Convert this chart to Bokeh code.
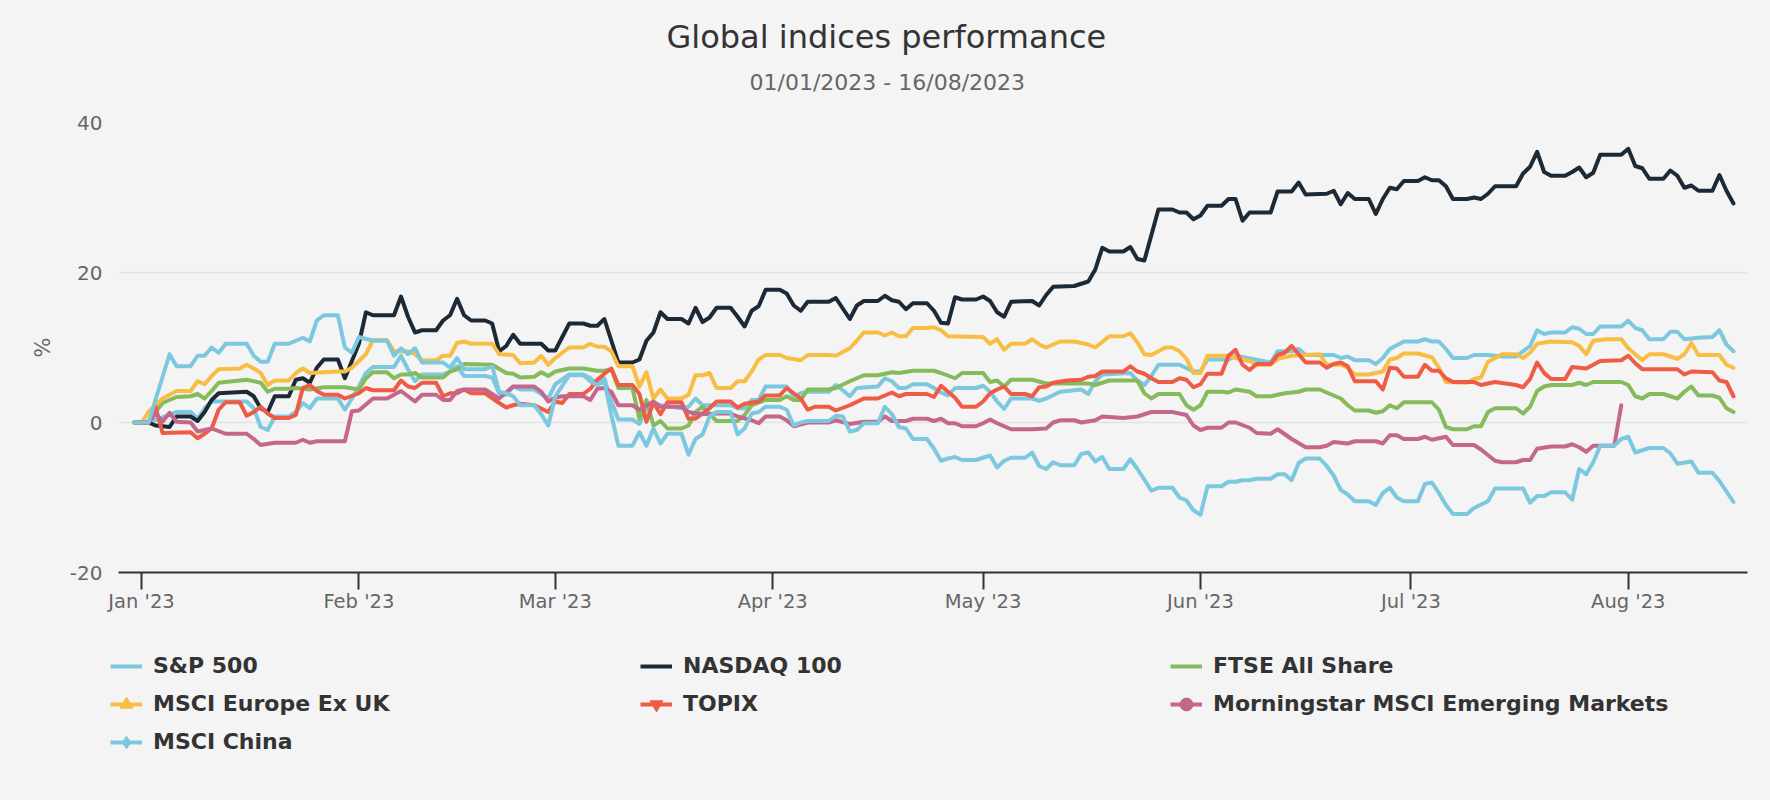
from datetime import datetime, timedelta

from bokeh.plotting import figure
from bokeh.layouts import column
from bokeh.models import (Range1d, FixedTicker, DatetimeTickFormatter, Legend,
                          LegendItem, ColumnDataSource, Title)
from bokeh.embed import file_html
from bokeh.resources import INLINE

# ---------------- data (day offset from 2023-01-01, % performance) ----------------
BASE = datetime(2023, 1, 1)

sp500_days = [-1, 1, 5, 7, 8, 9, 10, 15, 16, 17, 18, 19, 21, 22, 23, 24, 25, 28, 29, 30,
              31, 32, 33, 36, 37, 38, 39, 40, 43, 44, 45, 46, 49, 50, 51, 52, 53, 54, 56, 57,
              58, 59, 61, 63, 64, 65, 66, 67, 68, 70, 71, 72, 73, 74, 77, 78, 79, 80, 84, 85,
              86, 87, 88, 89, 92, 93, 94, 95, 98, 99, 100, 101, 102, 105, 106, 107, 108, 109, 110, 112,
              113, 114, 115, 116, 119, 120, 121, 122, 123, 124, 127, 128, 129, 131, 134, 135, 136, 137, 141, 142,
              143, 144, 145, 148, 150, 151, 152, 155, 156, 161, 162, 164, 165, 166, 170, 171, 172, 173, 175, 176,
              177, 178, 180, 182, 183, 184, 185, 186, 187, 189, 190, 192, 194, 196, 198, 199, 200, 201, 203, 204,
              205, 206, 207, 208, 211, 212, 213, 214, 215, 217, 218, 219, 220, 222, 224, 225, 226, 227]
sp500_pct = [0, 0, 1.4, 1.4, 0.5, 1.9, 2.8, 2.8, 1.9, -0.6, -1.0, 0.8, 0.8, 1.4, 2.6, 1.9, 3.2, 3.2, 1.7, 3.2,
             4.8, 6.6, 7.4, 7.4, 8.9, 7.1, 5.5, 6.4, 6.4, 6.8, 7.5, 6.2, 6.2, 6.0, 3.9, 3.7, 4.8, 4.4, 4.4, 3.8,
             3.2, 5.1, 6.4, 6.4, 5.9, 5.0, 5.9, 2.8, 0.4, 0.4, -0.2, 1.9, 2.6, 2.3, 1.9, 2.1, 3.2, 2.3, 2.3, 1.9,
             1.9, 3.0, 3.0, 4.8, 4.8, 3.5, 3.9, 4.1, 4.1, 5.0, 4.3, 3.5, 4.6, 4.8, 5.9, 5.5, 4.6, 4.6, 5.1, 5.1,
             4.6, 4.0, 3.6, 4.6, 4.6, 4.9, 4.1, 2.8, 1.8, 3.2, 3.2, 2.9, 3.2, 4.1, 4.4, 3.8, 5.5, 6.4, 6.6, 5.6,
             5.0, 6.2, 7.7, 7.7, 6.8, 6.8, 8.4, 8.4, 8.9, 8.0, 9.5, 9.5, 9.8, 9.0, 9.0, 8.6, 8.8, 8.3, 8.3, 7.8,
             8.6, 9.8, 10.8, 10.8, 11.1, 10.8, 10.8, 9.8, 8.6, 8.6, 9.0, 9.0, 8.8, 8.8, 10.2, 12.3, 11.8, 12.0, 12.0, 12.7,
             12.5, 11.8, 11.8, 12.8, 12.8, 13.6, 12.6, 12.3, 11.1, 11.1, 12.1, 12.1, 11.1, 11.3, 11.4, 12.3, 10.4, 9.5]

nasdaq_days = [-1, 1, 2, 4, 5, 7, 8, 9, 10, 11, 15, 16, 17, 18, 19, 21, 22, 23, 24, 25,
               26, 28, 29, 30, 31, 32, 33, 36, 37, 38, 39, 40, 42, 43, 44, 45, 46, 47, 49, 50,
               51, 52, 53, 54, 57, 58, 59, 60, 61, 63, 64, 65, 66, 67, 68, 70, 71, 72, 73, 74,
               75, 77, 78, 79, 80, 81, 82, 84, 85, 86, 87, 88, 89, 91, 92, 93, 94, 95, 98, 99,
               100, 101, 102, 103, 105, 106, 107, 108, 109, 110, 112, 113, 114, 115, 116, 117, 119, 120, 121, 122,
               123, 124, 127, 128, 129, 130, 133, 135, 136, 137, 138, 140, 141, 142, 143, 145, 147, 148, 149, 150,
               151, 152, 154, 155, 156, 157, 158, 161, 162, 164, 165, 166, 169, 170, 171, 172, 173, 175, 176, 177,
               178, 179, 180, 182, 183, 184, 185, 186, 187, 189, 190, 191, 192, 193, 196, 197, 198, 199, 200, 201,
               203, 204, 205, 206, 207, 208, 211, 212, 213, 214, 215, 217, 218, 219, 220, 221, 222, 224, 225, 226, 227]
nasdaq_pct = [0, 0, -0.4, -0.6, 0.8, 0.8, 0.2, 1.4, 3.0, 3.9, 4.1, 3.5, 1.9, 1.4, 3.5, 3.5, 5.7, 5.9, 5.3, 7.3,
              8.4, 8.4, 5.9, 8.2, 10.5, 14.7, 14.3, 14.3, 16.8, 14.1, 12.0, 12.3, 12.3, 13.6, 14.3, 16.5, 14.3, 13.6, 13.6, 13.2,
              9.5, 10.2, 11.7, 10.5, 10.5, 9.6, 9.6, 11.4, 13.2, 13.2, 12.9, 12.9, 13.8, 10.9, 8.0, 8.0, 8.4, 10.9, 12.0, 14.7,
              13.8, 13.8, 13.2, 15.3, 13.4, 14.0, 15.3, 15.3, 14.1, 12.8, 14.9, 15.5, 17.7, 17.7, 17.2, 15.6, 14.9, 16.1, 16.1, 16.6,
              15.2, 13.8, 15.6, 16.2, 16.2, 16.9, 16.3, 16.1, 15.1, 15.9, 15.9, 14.9, 13.3, 13.2, 16.7, 16.4, 16.4, 16.8, 16.2, 14.7,
              14.1, 16.1, 16.2, 15.6, 17.0, 18.1, 18.2, 18.8, 20.4, 23.3, 22.8, 22.8, 23.4, 21.8, 21.6, 28.4, 28.4, 28.0, 28.0, 27.1,
              27.6, 28.9, 28.9, 29.8, 29.8, 26.9, 28.0, 28.0, 30.8, 30.8, 32.0, 30.4, 30.5, 30.9, 29.1, 30.6, 29.8, 29.8, 27.8, 29.8,
              31.3, 31.1, 32.2, 32.2, 32.7, 32.3, 32.3, 31.5, 29.8, 29.8, 30.0, 29.8, 30.5, 31.5, 31.5, 33.2, 34.1, 36.1, 33.4, 32.9,
              32.9, 33.4, 34.0, 32.7, 33.3, 35.7, 35.7, 36.5, 34.2, 33.9, 32.5, 32.5, 33.6, 32.9, 31.3, 31.6, 30.9, 30.9, 33.0, 30.9, 29.2]

ftse_days = [-1, 1, 2, 3, 5, 7, 8, 9, 10, 11, 13, 15, 17, 18, 19, 21, 22, 24, 26, 29,
             31, 32, 33, 35, 36, 37, 38, 39, 40, 43, 44, 45, 46, 50, 52, 53, 54, 56, 57, 58,
             59, 61, 63, 65, 66, 67, 68, 70, 71, 72, 73, 74, 75, 77, 78, 79, 80, 82, 85, 86,
             87, 89, 91, 92, 93, 94, 95, 98, 99, 101, 103, 105, 107, 108, 110, 113, 114, 116, 117, 120,
             121, 122, 123, 124, 127, 129, 135, 136, 138, 142, 143, 144, 145, 148, 149, 150, 151, 152, 154, 155,
             156, 158, 159, 161, 163, 165, 166, 168, 170, 171, 172, 173, 175, 176, 177, 178, 179, 180, 184, 185,
             186, 187, 189, 190, 191, 192, 193, 196, 197, 198, 199, 200, 201, 204, 205, 206, 207, 211, 212, 213,
             214, 215, 217, 219, 220, 221, 222, 224, 225, 226, 227]
ftse_pct = [0, 0, 1.4, 2.6, 3.4, 3.5, 3.8, 3.2, 4.2, 5.3, 5.5, 5.7, 5.3, 4.1, 4.5, 4.5, 4.6, 4.4, 4.7, 4.7,
            4.4, 5.9, 6.7, 6.7, 5.9, 6.4, 6.4, 6.6, 6.0, 6.0, 6.8, 7.1, 7.8, 7.7, 6.6, 6.5, 6.0, 6.1, 6.7, 6.2,
            6.8, 7.2, 7.2, 6.9, 6.9, 7.1, 4.6, 4.6, 0.5, 3.0, -0.4, 0.2, -0.8, -0.8, -0.4, 1.4, 2.1, 0.2, 0.2, 1.0,
            2.3, 3.0, 3.0, 3.5, 3.0, 3.0, 4.4, 4.4, 4.6, 5.5, 6.3, 6.3, 6.7, 6.6, 6.9, 6.9, 6.6, 5.9, 6.6, 6.6,
            5.4, 5.6, 4.8, 5.7, 5.7, 5.2, 5.2, 5.0, 5.6, 5.6, 3.9, 3.2, 3.8, 3.8, 2.3, 1.7, 2.3, 4.1, 4.1, 4.0,
            4.4, 4.1, 3.5, 3.5, 3.9, 4.1, 4.4, 4.4, 3.6, 3.2, 2.3, 1.6, 1.6, 1.3, 1.5, 2.3, 1.9, 2.7, 2.7, 1.7,
            -0.6, -0.9, -0.9, -0.5, -0.5, 1.4, 1.9, 1.9, 1.2, 2.1, 4.2, 4.8, 5.0, 5.0, 5.3, 5.0, 5.4, 5.4, 5.0, 3.5,
            3.2, 3.8, 3.8, 3.2, 4.1, 4.8, 3.6, 3.6, 3.3, 1.9, 1.4]

europe_days = [-1, 0, 1, 3, 4, 5, 7, 8, 9, 10, 11, 14, 15, 16, 17, 18, 19, 21, 22, 23,
               24, 28, 29, 30, 32, 33, 35, 36, 38, 39, 40, 42, 43, 44, 45, 46, 47, 50, 51, 53,
               54, 56, 57, 58, 59, 60, 61, 63, 64, 65, 66, 67, 68, 70, 71, 72, 73, 74, 75, 77,
               78, 79, 80, 81, 82, 84, 85, 86, 87, 88, 89, 91, 92, 94, 95, 98, 99, 101, 102, 103,
               105, 106, 107, 108, 109, 110, 112, 113, 114, 115, 120, 121, 122, 123, 124, 126, 127, 128, 129, 131,
               133, 135, 136, 138, 140, 141, 142, 143, 144, 146, 147, 148, 149, 150, 151, 152, 155, 156, 158, 159,
               161, 162, 164, 168, 169, 171, 172, 173, 175, 177, 178, 179, 180, 182, 184, 185, 186, 189, 190, 191,
               192, 194, 196, 197, 198, 199, 201, 204, 205, 206, 207, 209, 211, 212, 214, 215, 217, 219, 220, 221,
               222, 225, 226, 227]
europe_pct = [0, 0, 1.4, 3.2, 3.7, 4.2, 4.2, 5.5, 5.1, 6.2, 7.1, 7.2, 7.7, 7.2, 6.6, 5.0, 5.6, 5.6, 6.6, 7.2,
              6.6, 6.8, 6.8, 7.3, 9.1, 11.0, 11.0, 9.5, 9.5, 9.1, 8.3, 8.3, 8.9, 8.9, 10.6, 10.8, 10.5, 10.5, 9.1, 9.0,
              7.9, 8.0, 8.9, 7.7, 8.6, 9.3, 10.0, 10.0, 10.5, 10.1, 10.1, 9.5, 7.5, 7.5, 4.8, 6.7, 3.2, 4.4, 3.2, 3.2,
              3.7, 6.3, 6.3, 6.6, 4.6, 4.6, 5.5, 5.5, 6.8, 8.4, 9.0, 9.0, 8.6, 8.3, 9.0, 9.0, 8.9, 9.9, 10.9, 12.0,
              12.0, 11.6, 12.0, 11.5, 11.5, 12.6, 12.6, 12.7, 12.3, 11.5, 11.4, 10.5, 11.1, 9.7, 10.5, 10.5, 11.1, 10.4, 10.0, 10.8,
              10.8, 10.4, 10.0, 11.5, 11.5, 11.9, 10.7, 9.1, 9.0, 10.0, 10.0, 9.5, 8.5, 6.6, 6.6, 8.9, 8.9, 8.6, 8.2, 7.7,
              7.7, 8.5, 8.9, 9.1, 7.7, 7.7, 7.3, 6.4, 6.4, 6.8, 8.4, 8.6, 9.2, 9.2, 8.7, 7.3, 5.4, 5.3, 5.8, 6.0,
              8.1, 9.1, 9.1, 8.6, 9.3, 10.5, 10.8, 10.7, 10.2, 9.1, 10.9, 11.1, 11.1, 9.9, 8.3, 9.1, 9.1, 8.5, 9.1, 10.6,
              9.0, 9.0, 7.7, 7.3]

topix_days = [-1, 1, 2, 3, 7, 8, 9, 10, 11, 12, 14, 15, 16, 17, 18, 19, 21, 22, 23, 24,
              25, 26, 28, 29, 31, 32, 33, 36, 37, 38, 39, 40, 42, 43, 44, 45, 46, 47, 49, 51,
              52, 53, 54, 56, 58, 59, 60, 61, 63, 64, 65, 66, 67, 68, 70, 71, 72, 73, 74, 75,
              77, 78, 79, 80, 81, 82, 84, 85, 86, 88, 89, 91, 92, 93, 94, 95, 96, 98, 99, 101,
              103, 105, 107, 108, 109, 112, 113, 114, 115, 116, 117, 119, 120, 121, 122, 123, 124, 126, 127, 128,
              129, 130, 132, 134, 135, 136, 137, 140, 141, 142, 143, 144, 145, 147, 148, 149, 150, 151, 152, 154,
              155, 156, 157, 158, 159, 161, 162, 163, 164, 165, 166, 168, 169, 170, 171, 172, 173, 176, 177, 178,
              179, 180, 182, 183, 184, 185, 186, 187, 190, 191, 193, 196, 197, 198, 199, 200, 201, 203, 204, 206,
              208, 211, 212, 213, 214, 219, 220, 221, 224, 225, 226, 227]
topix_pct = [0, 0, 2.1, -1.4, -1.3, -2.1, -1.5, -0.8, 1.7, 2.7, 2.7, 0.9, 1.4, 2.1, 1.2, 0.6, 0.6, 1.0, 4.6, 5.0,
             4.2, 3.7, 3.7, 3.2, 3.9, 4.6, 4.3, 4.3, 5.6, 4.8, 4.6, 5.3, 5.3, 3.5, 3.9, 3.9, 4.4, 3.9, 3.9, 2.6,
             2.0, 2.3, 2.5, 2.3, 1.4, 2.8, 2.6, 3.8, 3.8, 4.5, 5.7, 6.5, 7.2, 5.0, 5.0, 3.8, 0.1, 2.7, 1.1, 2.7,
             2.7, 0.5, 0.5, 1.2, 1.9, 2.8, 2.8, 2.0, 2.5, 2.8, 3.6, 3.6, 4.6, 3.9, 3.2, 1.7, 2.1, 2.1, 1.6, 2.3,
             3.2, 3.2, 4.0, 3.5, 3.8, 3.8, 3.4, 4.9, 4.1, 3.3, 2.1, 2.1, 2.8, 3.9, 4.4, 4.8, 3.8, 3.8, 3.5, 4.7,
             4.8, 5.3, 5.6, 5.7, 6.1, 6.2, 6.8, 6.8, 7.5, 6.8, 6.5, 5.9, 5.4, 5.4, 5.9, 5.7, 4.7, 5.1, 6.5, 6.5,
             8.9, 9.7, 7.7, 7.0, 7.8, 7.8, 9.0, 9.3, 10.2, 9.1, 8.0, 8.0, 7.3, 7.8, 8.0, 7.5, 5.5, 5.5, 4.4, 7.3,
             7.2, 6.1, 6.1, 7.7, 6.9, 6.9, 5.9, 5.4, 5.4, 5.0, 5.4, 5.0, 4.7, 5.8, 8.0, 6.6, 5.8, 5.8, 7.4, 7.2,
             8.2, 8.3, 8.9, 7.9, 7.1, 7.1, 6.4, 6.8, 6.7, 5.6, 5.4, 3.5]

em_days = [-1, 1, 2, 3, 4, 5, 7, 8, 10, 12, 15, 16, 17, 19, 22, 23, 24, 25, 29, 30,
           31, 33, 35, 37, 39, 40, 42, 43, 44, 45, 46, 49, 51, 53, 56, 57, 58, 59, 60, 63,
           64, 65, 66, 67, 68, 70, 71, 73, 74, 77, 78, 79, 81, 82, 84, 85, 87, 88, 89, 91,
           92, 93, 95, 98, 99, 101, 103, 105, 106, 107, 109, 110, 112, 113, 114, 115, 116, 117, 119, 120,
           121, 122, 124, 127, 129, 130, 131, 133, 134, 136, 137, 140, 142, 144, 147, 149, 150, 151, 152, 154,
           155, 156, 158, 159, 161, 162, 164, 166, 168, 169, 170, 171, 172, 173, 176, 177, 178, 179, 180, 182,
           183, 184, 186, 187, 190, 191, 193, 194, 196, 197, 198, 199, 201, 203, 204, 205, 206, 207, 210, 211]
em_pct = [0, 0, 1.2, 0.1, 1.3, 0.1, 0.0, -1.2, -0.8, -1.5, -1.5, -2.2, -3.0, -2.7, -2.7, -2.3, -2.7, -2.5, -2.5, 1.5,
          1.6, 3.2, 3.2, 4.2, 2.8, 3.7, 3.7, 3.0, 3.0, 4.2, 4.4, 4.4, 3.2, 4.8, 4.8, 4.1, 2.8, 3.3, 3.5, 3.5,
          3.0, 4.5, 4.6, 4.1, 2.3, 2.3, 1.7, 2.8, 2.1, 2.1, 1.4, 1.2, 1.1, 1.2, 1.2, 0.8, 0.3, -0.1, 0.8, 0.8,
          0.3, -0.5, 0.0, 0.0, 0.3, -0.2, 0.1, 0.1, 0.8, 0.2, 0.2, 0.5, 0.5, 0.2, 0.5, -0.1, -0.1, -0.5, -0.5, -0.1,
          0.4, -0.1, -0.9, -0.9, -0.8, 0.0, 0.3, 0.3, 0.0, 0.3, 0.8, 0.6, 0.8, 1.4, 1.4, 1.0, -0.4, -1.0, -0.7, -0.7,
          0.0, 0.0, -0.7, -1.4, -1.5, -0.9, -2.2, -3.3, -3.3, -3.1, -2.6, -2.7, -2.8, -2.5, -2.5, -2.8, -1.7, -1.7, -2.2, -2.2,
          -1.9, -2.3, -1.9, -3.0, -3.0, -3.6, -5.1, -5.3, -5.3, -5.0, -5.0, -3.5, -3.2, -3.2, -2.9, -3.3, -3.9, -3.1, -3.1, 2.3]

china_days = [-1, 1, 4, 5, 7, 8, 9, 10, 11, 12, 15, 16, 17, 18, 19, 21, 22, 23, 24, 25,
              26, 28, 29, 30, 31, 33, 35, 36, 37, 38, 39, 40, 43, 44, 45, 46, 49, 50, 51, 52,
              53, 54, 56, 57, 58, 59, 61, 63, 64, 65, 66, 67, 68, 70, 71, 72, 73, 74, 75, 77,
              78, 79, 80, 81, 82, 84, 85, 86, 87, 88, 89, 91, 92, 93, 94, 95, 98, 99, 100, 101,
              102, 103, 105, 106, 107, 108, 109, 110, 112, 113, 114, 115, 116, 117, 119, 121, 122, 123, 124, 126,
              127, 128, 129, 130, 131, 133, 134, 135, 136, 137, 138, 140, 141, 142, 143, 144, 145, 147, 148, 149,
              150, 151, 152, 154, 155, 156, 157, 158, 159, 161, 162, 163, 164, 165, 166, 168, 169, 170, 171, 172,
              173, 175, 176, 177, 178, 179, 180, 182, 183, 184, 185, 186, 187, 189, 190, 192, 193, 197, 198, 199,
              200, 201, 203, 204, 205, 206, 207, 208, 210, 211, 212, 213, 215, 217, 218, 219, 221, 222, 224, 225, 227]
china_pct = [0, 0, 9.1, 7.5, 7.5, 8.9, 8.9, 10.0, 9.3, 10.5, 10.5, 8.9, 8.1, 8.1, 10.5, 10.5, 10.9, 11.3, 10.8, 13.6,
             14.3, 14.3, 10.0, 9.3, 11.4, 10.9, 10.9, 8.9, 9.9, 9.1, 9.9, 8.0, 8.0, 7.3, 8.6, 7.1, 7.1, 7.5, 4.1, 3.9,
             3.5, 2.3, 2.3, 1.1, -0.4, 3.5, 6.3, 6.3, 5.5, 5.0, 5.5, 1.0, -3.1, -3.1, -1.3, -3.1, -0.8, -2.8, -1.5, -1.5,
             -4.3, -2.2, -1.6, 0.8, 1.4, 1.4, -1.6, -0.8, 1.2, 1.4, 2.1, 2.1, 1.7, -0.4, 0.0, 0.2, 0.2, 0.9, 0.8, -1.2,
             -1.0, -0.1, -0.1, 2.1, 1.1, -0.6, -0.8, -2.2, -2.2, -3.5, -5.1, -4.8, -4.6, -5.0, -5.0, -4.4, -6.0, -5.1, -4.7, -4.7,
             -4.0, -5.8, -6.2, -5.3, -5.7, -5.7, -4.2, -4.0, -5.2, -4.6, -6.2, -6.2, -4.9, -6.2, -7.6, -9.1, -8.7, -8.7, -10.0, -10.4,
             -11.7, -12.3, -8.5, -8.5, -7.9, -7.9, -7.7, -7.7, -7.5, -7.5, -6.9, -6.9, -7.7, -5.4, -4.8, -4.8, -5.8, -7.1, -9.0, -9.6,
             -10.5, -10.5, -11.0, -9.4, -8.7, -10.0, -10.5, -10.5, -8.2, -8.0, -9.4, -11.0, -12.2, -12.2, -11.4, -10.5, -8.8, -8.8, -10.7, -9.8,
             -9.8, -9.3, -9.3, -10.3, -6.2, -6.9, -5.3, -3.1, -3.1, -2.2, -1.9, -4.0, -3.4, -3.4, -4.1, -5.5, -5.2, -6.7, -6.7, -7.8, -10.6]

series_names = ["S&P 500", "NASDAQ 100", "FTSE All Share", "MSCI Europe Ex UK", "TOPIX",
                "Morningstar MSCI Emerging Markets", "MSCI China"]
series_colors = ["#7cc8de", "#1b2a36", "#86bb5c", "#f8bd43", "#ee5b46", "#c4678a", "#7cc8de"]
series_markers = [None, None, None, "triangle", "inverted_triangle", "circle", "diamond"]
series_data = [(sp500_days, sp500_pct), (nasdaq_days, nasdaq_pct), (ftse_days, ftse_pct),
               (europe_days, europe_pct), (topix_days, topix_pct), (em_days, em_pct),
               (china_days, china_pct)]

month_ticks = ["2023-01-01", "2023-02-01", "2023-03-01", "2023-04-01", "2023-05-01",
               "2023-06-01", "2023-07-01", "2023-08-01"]
y_ticks = [-20, 0, 20, 40]

TITLE = "Global indices performance"
SUBTITLE = "01/01/2023 - 16/08/2023"
Y_LABEL = "%"

# ---------------- main figure ----------------
BG = "#f4f4f4"
FONT = "DejaVu Sans"
W = 1754
H_MAIN, H_LEG = 640, 144
FL, FT = 118, 122
FR = W - 1747
FB = H_MAIN - 572


def to_ms(d):
    return (d - datetime(1970, 1, 1)).total_seconds() * 1000.0


x_start = to_ms(BASE + timedelta(days=-3.28))
x_end = to_ms(BASE + timedelta(days=229.0))

p = figure(width=W, height=H_MAIN, x_axis_type="datetime", output_backend="svg",
           toolbar_location=None, title=None,
           x_range=Range1d(x_start, x_end), y_range=Range1d(-20, 40),
           background_fill_color=BG, border_fill_color=BG, outline_line_color=None,
           min_border_left=FL, min_border_right=FR, min_border_top=FT, min_border_bottom=FB)

p.xgrid.grid_line_color = None
p.ygrid.grid_line_color = "#e3e3e3"
p.ygrid.grid_line_width = 1.5
p.yaxis.ticker = FixedTicker(ticks=y_ticks)
p.yaxis.major_label_overrides = {t: str(t) for t in y_ticks}
p.yaxis.axis_line_color = None
p.yaxis.major_tick_line_color = None
p.yaxis.major_tick_out = 0
p.yaxis.major_tick_in = 0
p.yaxis.minor_tick_line_color = None
p.yaxis.major_label_text_font = FONT
p.yaxis.major_label_text_font_size = "20px"
p.yaxis.major_label_text_color = "#666666"
p.yaxis.major_label_standoff = 16
p.yaxis.axis_label = Y_LABEL
p.yaxis.axis_label_text_font = FONT
p.yaxis.axis_label_text_font_size = "21px"
p.yaxis.axis_label_text_font_style = "normal"
p.yaxis.axis_label_text_color = "#666666"
p.yaxis.axis_label_standoff = 12

p.xaxis.ticker = FixedTicker(ticks=[to_ms(datetime.strptime(t, "%Y-%m-%d")) for t in month_ticks])
p.xaxis.formatter = DatetimeTickFormatter(days="%b '%y", months="%b '%y", years="%b '%y",
                                          hours="%b '%y", minutes="%b '%y")
p.xaxis.axis_line_color = "#333333"
p.xaxis.axis_line_width = 2
p.xaxis.major_tick_line_color = "#333333"
p.xaxis.major_tick_line_width = 2
p.xaxis.major_tick_out = 17
p.xaxis.major_tick_in = 0
p.xaxis.minor_tick_line_color = None
p.xaxis.major_label_text_font = FONT
p.xaxis.major_label_text_font_size = "19.5px"
p.xaxis.major_label_text_color = "#666666"
p.xaxis.major_label_standoff = 0

for (days, pct), color in zip(series_data, series_colors):
    if len(days) != len(pct):
        raise ValueError("length mismatch %d %d" % (len(days), len(pct)))
    src = ColumnDataSource(dict(date=[BASE + timedelta(days=d) for d in days], pct=pct))
    p.line(x="date", y="pct", source=src, line_color=color, line_width=4,
           line_join="round", line_cap="round")

# titles: panels stack outward from the plot in the order they are added.
# A blank spacer panel keeps the gap between the subtitle and the plot area.
p.add_layout(Title(text=" ", align="left", standoff=20, text_font=FONT,
                   text_font_size="1px", text_color=BG), "above")
p.add_layout(Title(text=SUBTITLE, align="left", offset=749 - FL, standoff=10,
                   text_font=FONT, text_font_size="22px", text_font_style="normal",
                   text_color="#666666"), "above")
p.add_layout(Title(text=TITLE, align="left", offset=666 - FL, standoff=14,
                   text_font=FONT, text_font_size="32px", text_font_style="normal",
                   text_color="#333333"), "above")

# ---------------- legend strip ----------------
q = figure(width=W, height=H_LEG, output_backend="svg", toolbar_location=None, title=None,
           x_range=Range1d(0, 1), y_range=Range1d(0, 1),
           x_axis_location=None, y_axis_location=None,
           background_fill_color=BG, border_fill_color=BG, outline_line_color=None,
           min_border=0)
q.grid.visible = False
unaligned = "frame_align" in q.properties()
if unaligned:
    q.frame_align = False

NAN = [float("nan")]
items = []
for name, color, marker in zip(series_names, series_colors, series_markers):
    rends = [q.line(x=NAN, y=NAN, line_color=color, line_width=4, line_cap="butt")]
    if marker:
        rends.append(q.scatter(x=NAN, y=NAN, marker=marker, size=13,
                               fill_color=color, line_color=color))
    items.append(LegendItem(label=name, renderers=rends))

GLYPH_W = 32
LEG_TOP = 665.7 - H_MAIN - 16          # top of first legend row inside the strip
LEG_H = 3 * 32 + 2 * 6
if unaligned:
    leg_x, standoff = 110, 11
else:
    leg_x, standoff = 0, 3
legend = Legend(items=items, orientation="horizontal", ncols=3,
                location=(leg_x, H_LEG - LEG_TOP - LEG_H),
                glyph_width=GLYPH_W, glyph_height=32, label_height=32,
                label_width=530 - GLYPH_W - 6 - standoff,
                label_standoff=standoff, padding=0, margin=0, spacing=6,
                border_line_color=None, background_fill_alpha=0,
                label_text_font=FONT, label_text_font_size="22px",
                label_text_font_style="bold", label_text_color="#333333")
q.add_layout(legend)

layout = column(p, q, spacing=0)
html = file_html(layout, INLINE, title="Global indices performance")
html = html.replace("<head>", "<head><style>body{background:%s;}</style>" % BG, 1)
open("out.html", "w").write(html)
